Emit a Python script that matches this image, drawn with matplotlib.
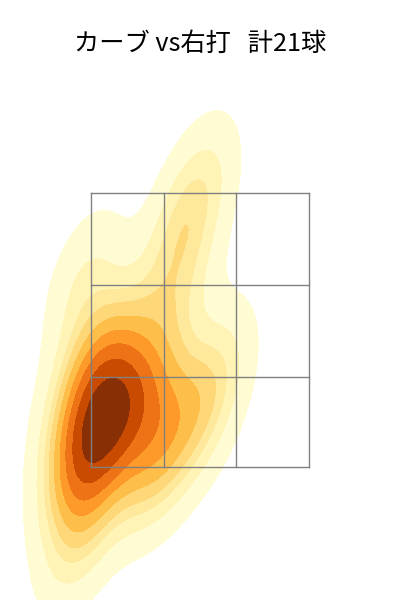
import matplotlib
matplotlib.use('Agg')
import matplotlib.pyplot as plt
import seaborn as sns

plt.rcParams['font.family'] = ['Noto Sans CJK JP', 'DejaVu Sans']

# pitch locations, plate x / height in feet
plate_x = [-0.78, -0.69, -0.66, -0.88, -0.30, -0.57, -0.95, -0.84, -0.93, -0.65, -0.42,
           -0.80, -0.95, -0.25, 0.00, -0.42, 0.13, -0.20, 0.00, -0.15, -0.88]
plate_z = [1.80, 1.84, 1.95, 1.70, 1.50, 1.92, 1.48, 1.33, 0.93, 2.39, 2.05,
           2.28, 1.99, 1.95, 1.82, 1.55, 2.20, 2.72, 3.56, 3.20, 2.86]
zone_x = [-0.83, -0.275, 0.275, 0.83]
zone_z = [1.50, 2.16, 2.83, 3.50]
title = 'カーブ vs右打   計21球'

fig = plt.figure(figsize=(4, 6), dpi=100)
ax = fig.add_axes([0, 0, 1, 1])
sns.kdeplot(x=plate_x, y=plate_z, fill=True, cmap='YlOrBr', levels=10, thresh=0.05, ax=ax)

for x in zone_x:
    ax.plot([x, x], [zone_z[0], zone_z[-1]], color='gray', lw=1)
for z in zone_z:
    ax.plot([zone_x[0], zone_x[-1]], [z, z], color='gray', lw=1)

# same scale as the picture: 131 px/ft across, 137 px/ft up
ax.set_xlim(-200 / 131, 200 / 131)
ax.set_ylim(3.5 - 407 / 137, 3.5 + 193 / 137)
ax.axis('off')
ax.text(0, 3.5 + 149 / 137, title, ha='center', va='center', fontsize=18.2)

fig.savefig('out.png', dpi=100)
